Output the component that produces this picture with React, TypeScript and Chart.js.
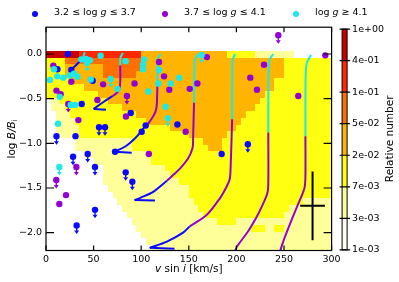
import React, { useEffect, useRef } from 'react';
import { Chart, registerables } from 'chart.js';
Chart.register(...registerables);

const FONT = 'DejaVu Sans';
const BLUE = '#0a0aff';
const PURPLE = '#9400d3';
const CYAN = '#1ee8e8';

const xTickValues = [0, 50, 100, 150, 200, 250, 300];
const yTickValues = [-2.0, -1.5, -1.0, -0.5, 0.0];
const colorbarLabels = ['1e-03', '3e-03', '7e-03', '2e-02', '5e-02', '1e-01', '4e-01', '1e+00'];
const levelColors = ['#fffff4', '#ffff99', '#ffff12', '#ffb400', '#ff7000', '#ff2800', '#c80000'];

// heat map: rows of 0.075 dex from the top edge; "level:endVsini" runs
const heatTop = 0.035;
const heatRowHeight = 0.075;
const heatRows = [
  '6:35 5:100 3:190 2:220 1:260 .:300',
  '2:20 4:100 3:250 2:300',
  '2:20 3:60 4:100 3:250 2:300',
  '2:20 3:60 4:95 3:250 2:300',
  '2:25 3:240 2:300',
  '2:40 3:240 2:300',
  '2:55 3:230 2:300',
  '.:5 1:15 2:65 3:225 2:300',
  '.:5 1:20 2:80 3:220 2:300',
  '.:10 1:25 2:95 3:210 2:300',
  '.:10 1:30 2:105 3:205 2:300',
  '.:10 1:35 2:130 3:200 2:300',
  '.:10 1:35 2:150 3:190 2:300',
  '.:30 1:90 2:165 3:185 2:300',
  '.:30 1:90 2:170 3:185 2:300',
  '.:40 1:110 2:300',
  '.:50 1:110 2:300',
  '.:60 1:125 2:300',
  '.:60 1:130 2:300',
  '.:60 1:140 2:300',
  '.:65 1:150 2:300',
  '.:70 1:150 2:300',
  '.:75 1:155 2:270 1:300',
  '.:80 1:160 2:255 1:300',
  '.:85 1:165 2:250 1:300',
  '.:90 1:180 2:200 1:300',
  '.:95 1:215 2:230 1:240 2:250 1:300',
  '.:100 1:300',
  '.:105 1:300',
  '.:110 1:300',
];

type P = [number, number];

const blueDetections: P[] = [
  [23, 0.0], [12, -0.17], [26.6, -0.18], [49, -0.3], [37.5, -0.56], [89, -0.66],
  [104.7, -0.8], [138, -0.79], [100.5, -0.87], [184.5, -1.12], [31, -0.92], [72.5, -1.094],
];
const blueLimits: P[] = [
  [55.7, -0.82], [62, -0.82], [11, -0.92], [28.4, -1.15], [43.8, -1.12], [51.5, -1.265],
  [83.7, -1.325], [90.7, -1.43], [51.5, -1.745], [32.2, -1.92], [212, -1.01],
];
const purpleDetections: P[] = [
  [7.7, -0.13], [26.6, -0.31], [60, -0.34], [93, -0.33], [11, -0.41], [15.4, -0.45],
  [54, -0.515], [84, -0.7], [34, -0.74], [118.7, -0.09], [124, -0.25], [129.5, -0.4],
  [151, -0.39], [159, -0.33], [169, -0.035], [146.7, -0.87], [293.4, -0.015], [229, -0.12],
  [214.6, -0.265], [221.6, -0.4], [265, -0.47], [108, -1.12], [21, -1.58], [14, -1.68],
];
const purpleLimits: P[] = [
  [85, -0.47], [23.4, -0.56], [244, 0.21], [31.9, -1.265], [10.8, -1.41],
];
const cyanDetections: P[] = [
  [37, -0.06], [42, -0.055], [46, -0.07], [57.4, -0.02], [8.4, -0.17], [4.2, -0.29],
  [11.9, -0.25], [18.2, -0.265], [25.2, -0.24], [29.4, -0.22], [33, -0.255], [47, -0.285],
  [75, -0.39], [83.7, -0.08], [14.4, -0.48], [26, -0.57], [30.5, -0.57], [12.6, -0.78],
  [103, -0.06], [102, -0.12], [102, -0.17], [118.7, -0.18], [118, -0.33], [131, -0.33],
  [140, -0.265], [107.5, -0.42], [125.7, -0.59],
];
const cyanLimits: P[] = [
  [43, -0.1], [68, -0.28], [128, -0.72], [163.5, -0.01], [14, -1.265],
];

// model tracks, split by log g range
const tracksCyan: P[][] = [
  [[41, 0.02], [40, 0.0], [39, -0.04]],
  [[81, 0.01], [79, -0.02], [78, -0.06], [78, -0.13]],
  [[120.5, 0.0], [117.5, -0.05], [117, -0.15], [117, -0.36]],
  [[160, 0.0], [156.5, -0.06], [155.8, -0.2], [155.5, -0.545]],
  [[198.5, 0.0], [196, -0.06], [195.6, -0.2], [195.5, -0.73]],
  [[238.8, 0.0], [235, -0.06], [233.8, -0.2], [233.5, -0.88]],
  [[278.4, -0.01], [274, -0.1], [272.7, -0.26], [272.5, -0.92]],
];
const tracksPurple: P[][] = [
  [[78, -0.13], [78, -0.32], [77, -0.39], [74, -0.44], [70, -0.47]],
  [[117, -0.36], [116.5, -0.55], [115.5, -0.63], [113, -0.69], [108, -0.77], [104, -0.81]],
  [[155.5, -0.545], [154.5, -0.94], [154, -1.05], [149.5, -1.165], [141, -1.28], [134, -1.35], [127, -1.42]],
  [[195.5, -0.73], [194, -1.25], [193, -1.4], [189, -1.5], [183, -1.61], [169, -1.8], [151, -1.93]],
  [[233.5, -0.88], [233.5, -1.45], [232.5, -1.56], [227.5, -1.69], [220.5, -1.84], [212, -1.99], [201, -2.15], [198, -2.22]],
  [[272.5, -0.92], [272.5, -1.35], [271.5, -1.5], [264.5, -1.69], [257.5, -1.87], [250.5, -2.06], [247, -2.17], [245.5, -2.22]],
];
const tracksBlue: P[][] = [
  [[39, -0.04], [33, -0.11], [25, -0.19]],
  [[70, -0.47], [60, -0.54], [50, -0.615]],
  [[104, -0.81], [99, -0.88], [92, -0.96], [84, -1.03], [72.5, -1.094]],
  [[127, -1.42], [113, -1.54], [99, -1.61], [93, -1.635]],
  [[151, -1.93], [144, -2.0], [127, -2.1], [109, -2.17]],
];
// short returning hooks after the turning point of each track
const tracksBlueReturn: P[][] = [
  [[50, -0.615], [63, -0.625]],
  [[72.5, -1.094], [90, -1.105]],
  [[93, -1.635], [114.5, -1.64]],
  [[109, -2.17], [135, -2.18]],
];

const errorBar = { v: 280, logB: -1.7, dv: 13, dlogB: 0.385 };
const limitArrowLength = 0.095;

type Seg = [string, boolean];
const legendLabels: Seg[][] = [
  [['3.2 \u2264 log ', false], ['g', true], [' \u2264 3.7', false]],
  [['3.7 \u2264 log ', false], ['g', true], [' \u2264 4.1', false]],
  [['log ', false], ['g', true], [' \u2265 4.1', false]],
];
const legendColors = [BLUE, PURPLE, CYAN];

const toXY = (a: P[]) => a.map(([x, y]) => ({ x, y }));

function drawRich(ctx: CanvasRenderingContext2D, segs: Seg[], x: number, y: number, size: number, center: boolean) {
  const fonts = segs.map(([, it]) => `${it ? 'italic ' : ''}${size}px "${FONT}"`);
  const widths = segs.map(([t], i) => { ctx.font = fonts[i]; return ctx.measureText(t).width; });
  const total = widths.reduce((a, b) => a + b, 0);
  let cx = center ? x - total / 2 : x;
  ctx.textAlign = 'left';
  ctx.textBaseline = 'middle';
  segs.forEach(([t], i) => { ctx.font = fonts[i]; ctx.fillText(t, cx, y); cx += widths[i]; });
}

const heatPlugin = {
  id: 'heat',
  beforeDatasetsDraw(chart: any) {
    const { ctx, chartArea: a, scales } = chart;
    const x = scales.x, y = scales.y;
    ctx.save();
    ctx.beginPath();
    ctx.rect(a.left, a.top, a.right - a.left, a.bottom - a.top);
    ctx.clip();
    heatRows.forEach((row, r) => {
      const yt = heatTop - heatRowHeight * r;
      const yb = yt - heatRowHeight;
      const py0 = Math.round(y.getPixelForValue(yt));
      const py1 = Math.round(y.getPixelForValue(yb));
      let start = 0;
      row.split(' ').forEach((seg) => {
        const [lv, e] = seg.split(':');
        const end = +e;
        if (lv !== '.') {
          const px0 = Math.round(x.getPixelForValue(start));
          const px1 = Math.round(x.getPixelForValue(end));
          ctx.fillStyle = levelColors[+lv];
          ctx.fillRect(px0, py0, px1 - px0, py1 - py0);
        }
        start = end;
      });
    });
    // upper-limit arrows
    chart.data.datasets.forEach((ds: any) => {
      if (!ds.isLimit) return;
      ctx.strokeStyle = ds.backgroundColor;
      ctx.fillStyle = ds.backgroundColor;
      ctx.lineWidth = 1.3;
      ds.data.forEach((p: any) => {
        const px = x.getPixelForValue(p.x);
        const py = y.getPixelForValue(p.y);
        const pt = y.getPixelForValue(p.y - limitArrowLength);
        ctx.beginPath();
        ctx.moveTo(px, py);
        ctx.lineTo(px, pt - 3);
        ctx.stroke();
        ctx.beginPath();
        ctx.moveTo(px - 2.5, pt - 3.5);
        ctx.lineTo(px + 2.5, pt - 3.5);
        ctx.lineTo(px, pt);
        ctx.closePath();
        ctx.fill();
      });
    });
    ctx.restore();
  },
  afterDatasetsDraw(chart: any) {
    const { ctx, chartArea: a, scales } = chart;
    const x = scales.x, y = scales.y;
    ctx.save();
    // error bar
    ctx.strokeStyle = '#000';
    ctx.lineWidth = 2;
    const ex = x.getPixelForValue(errorBar.v), ey = y.getPixelForValue(errorBar.logB);
    ctx.beginPath();
    ctx.moveTo(x.getPixelForValue(errorBar.v - errorBar.dv), ey);
    ctx.lineTo(x.getPixelForValue(errorBar.v + errorBar.dv), ey);
    ctx.moveTo(ex, y.getPixelForValue(errorBar.logB + errorBar.dlogB));
    ctx.lineTo(ex, y.getPixelForValue(errorBar.logB - errorBar.dlogB));
    ctx.stroke();
    // frame and inward ticks
    ctx.lineWidth = 1.2;
    ctx.strokeRect(a.left, a.top, a.right - a.left, a.bottom - a.top);
    ctx.beginPath();
    x.ticks.forEach((t: any) => {
      const px = x.getPixelForValue(t.value);
      ctx.moveTo(px, a.bottom); ctx.lineTo(px, a.bottom - 5);
      ctx.moveTo(px, a.top); ctx.lineTo(px, a.top + 5);
    });
    y.ticks.forEach((t: any) => {
      const py = y.getPixelForValue(t.value);
      ctx.moveTo(a.left, py); ctx.lineTo(a.left + 8, py);
      ctx.moveTo(a.right, py); ctx.lineTo(a.right - 8, py);
    });
    ctx.stroke();
    ctx.restore();
  },
  afterDraw(chart: any) {
    const { ctx, chartArea: a, scales } = chart;
    const cb = scales.cb;
    ctx.save();
    ctx.fillStyle = '#000';
    // axis titles
    drawRich(ctx, [['v', true], [' sin ', false], ['i', true], [' [km/s]', false]], (a.left + a.right) / 2, 269.5, 10.5, true);
    ctx.save();
    ctx.translate(12, (a.top + a.bottom) / 2);
    ctx.rotate(-Math.PI / 2);
    ctx.font = `10.5px "${FONT}"`;
    const w1 = ctx.measureText('log ').width;
    ctx.font = `italic 10.5px "${FONT}"`;
    const w2 = ctx.measureText('B/B').width;
    ctx.font = `7.5px "${FONT}"`;
    const w3 = ctx.measureText('i').width;
    let sx = -(w1 + w2 + w3) / 2;
    ctx.textBaseline = 'middle';
    ctx.textAlign = 'left';
    ctx.font = `10.5px "${FONT}"`; ctx.fillText('log ', sx, 0); sx += w1;
    ctx.font = `italic 10.5px "${FONT}"`; ctx.fillText('B/B', sx, 0); sx += w2;
    ctx.font = `7.5px "${FONT}"`; ctx.fillText('i', sx, 3);
    ctx.restore();
    // legend
    const markerX = [35, 165, 296];
    legendLabels.forEach((segs, i) => {
      ctx.fillStyle = legendColors[i];
      ctx.beginPath();
      ctx.arc(markerX[i], 14, 3, 0, Math.PI * 2);
      ctx.fill();
      ctx.fillStyle = '#000';
      drawRich(ctx, segs, markerX[i] + 19, 13, 9.5, false);
    });
    // colorbar
    const x0 = a.right + 10.5, w = 5;
    for (let i = 0; i < levelColors.length; i++) {
      const y0 = cb.getPixelForValue(i), y1 = cb.getPixelForValue(i + 1);
      ctx.fillStyle = levelColors[i];
      ctx.fillRect(x0, y1, w, y0 - y1);
    }
    ctx.strokeStyle = '#000';
    ctx.lineWidth = 1;
    ctx.strokeRect(x0, cb.getPixelForValue(7), w, cb.getPixelForValue(0) - cb.getPixelForValue(7));
    ctx.lineWidth = 1.2;
    ctx.beginPath();
    colorbarLabels.forEach((_, i) => {
      const py = cb.getPixelForValue(i);
      ctx.moveTo(x0 - 2.5, py); ctx.lineTo(x0 + w + 3, py);
    });
    ctx.stroke();
    ctx.fillStyle = '#000';
    ctx.font = `9.5px "${FONT}"`;
    ctx.textAlign = 'left';
    ctx.textBaseline = 'middle';
    colorbarLabels.forEach((t, i) => ctx.fillText(t, x0 + w + 5, cb.getPixelForValue(i)));
    ctx.save();
    ctx.translate(390, (a.top + a.bottom) / 2);
    ctx.rotate(-Math.PI / 2);
    ctx.font = `10.5px "${FONT}"`;
    ctx.textAlign = 'center';
    ctx.fillText('Relative number', 0, 0);
    ctx.restore();
    ctx.restore();
  },
};

export default function App() {
  const ref = useRef<HTMLCanvasElement>(null);
  useEffect(() => {
    document.body.style.margin = '0';
    const canvas = ref.current!;
    const pointDs = (data: P[], color: string, isLimit: boolean, order: number) => ({
      type: 'scatter' as const,
      data: toXY(data),
      backgroundColor: color,
      borderWidth: 0,
      pointRadius: 3.2,
      isLimit,
      order,
    });
    const lineDs = (data: P[], color: string, tension: number) => ({
      type: 'scatter' as const,
      data: toXY(data),
      showLine: true,
      borderColor: color,
      borderWidth: 2,
      pointRadius: 0,
      fill: false,
      tension,
      order: 10,
    });
    const datasets: any[] = [
      pointDs(cyanDetections, CYAN, false, 0),
      pointDs(cyanLimits, CYAN, true, 0),
      pointDs(purpleDetections, PURPLE, false, 1),
      pointDs(purpleLimits, PURPLE, true, 1),
      pointDs(blueDetections, BLUE, false, 2),
      pointDs(blueLimits, BLUE, true, 2),
      ...tracksBlue.map((t) => lineDs(t, BLUE, 0.3)),
      ...tracksBlueReturn.map((t) => lineDs(t, BLUE, 0)),
      ...tracksPurple.map((t) => lineDs(t, PURPLE, 0.3)),
      ...tracksCyan.map((t) => lineDs(t, CYAN, 0.3)),
    ];
    const chart = new Chart(canvas, {
      type: 'scatter',
      data: { datasets },
      options: {
        animation: false,
        responsive: false,
        devicePixelRatio: 1,
        layout: { padding: { top: 27.2, right: 67.4, bottom: 0, left: 0 } },
        plugins: { legend: { display: false }, tooltip: { enabled: false } },
        scales: {
          x: {
            type: 'linear',
            min: 0,
            max: 300,
            grid: { display: false, drawTicks: false },
            border: { display: false },
            ticks: { font: { family: FONT, size: 9.5 }, color: '#000', padding: 3 },
            afterBuildTicks: (s: any) => { s.ticks = xTickValues.map((value) => ({ value })); },
            afterFit: (s: any) => { s.height = 31.5; },
          },
          y: {
            type: 'linear',
            min: -2.2,
            max: 0.3,
            grid: { display: false, drawTicks: false },
            border: { display: false },
            ticks: {
              font: { family: FONT, size: 9.5 },
              color: '#000',
              padding: 4,
              callback: (v: any) => (v < 0 ? '\u2212' : '') + Math.abs(v).toFixed(1),
            },
            afterBuildTicks: (s: any) => { s.ticks = yTickValues.map((value) => ({ value })); },
            afterFit: (s: any) => { s.width = 46; },
          },
          cb: {
            type: 'linear',
            position: 'right',
            display: false,
            min: -0.02,
            max: 7.06,
          },
        },
      } as any,
      plugins: [heatPlugin],
    });
    return () => chart.destroy();
  }, []);
  return <canvas ref={ref} width={399} height={282} style={{ display: 'block', width: 399, height: 282 }} />;
}
